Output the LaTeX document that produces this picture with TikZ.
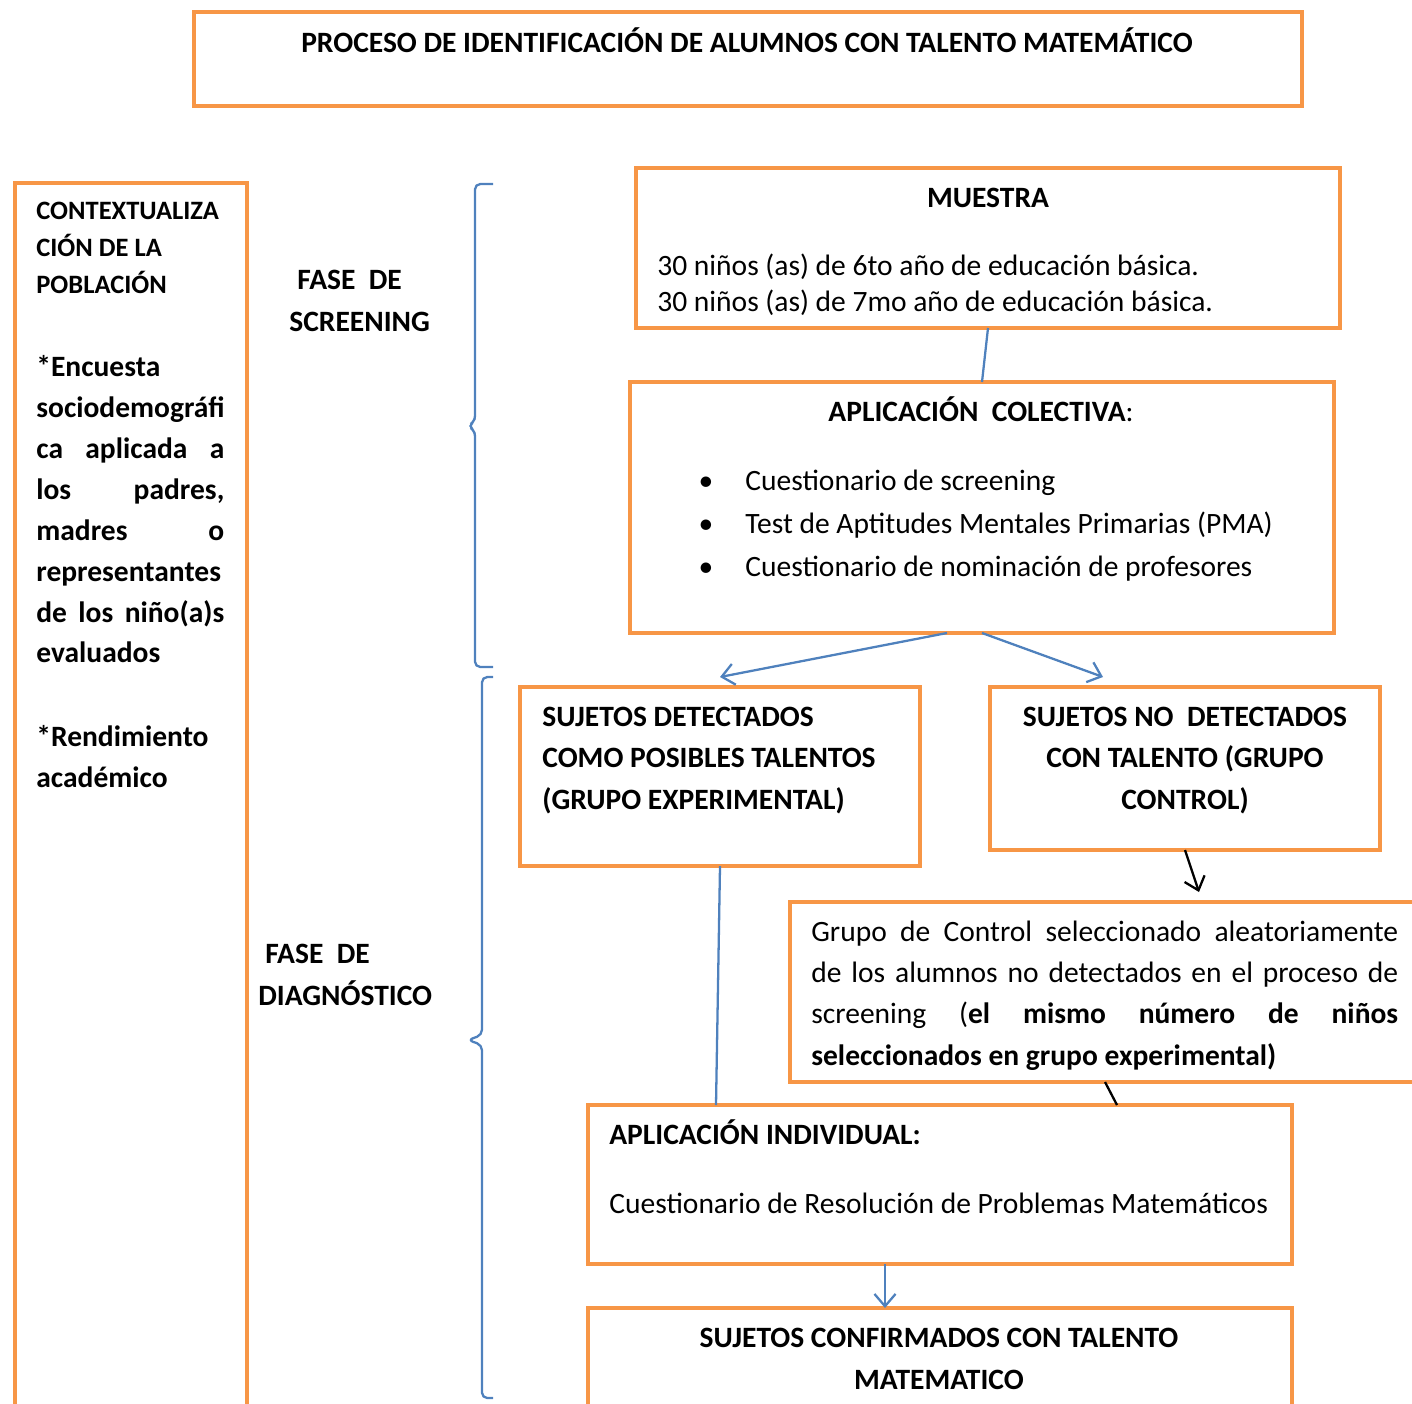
\documentclass[tikz,border=0pt]{standalone}
\usepackage{fontspec}
\setmainfont{Carlito}
\usetikzlibrary{arrows.meta,positioning,calc,fit}
\definecolor{myorange}{RGB}{247,150,70}
\definecolor{myblue}{RGB}{79,129,189}
\newcommand{\jline}[2]{\makebox[#1][s]{#2}}

\begin{document}
\begin{tikzpicture}[x=0.02cm,y=-0.02cm,
    box/.style={draw=myorange,line width=2.5pt,inner sep=0pt,outer sep=0pt},
    txt/.style={inner sep=0pt,font=\fontsize{16.8}{23.5}\selectfont},
    bold/.style={inner sep=0pt,font=\fontsize{16.8}{23.5}\selectfont\bfseries},
    link/.style={myblue,line width=1.3pt},
    barb/.style={-{Straight Barb[length=7pt,width=12pt]}}]
  \useasboundingbox (0,0) rectangle (1412,1403);
  \clip (0,0) rectangle (1412,1403);
  \node[box,fit={(194,12) (1302,106)}] (title) {};
  \node[box,fit={(15,183) (247,1420)}] (ctx) {};
  \node[box,fit={(636,168) (1340,328)}] (muestra) {};
  \node[box,fit={(630,382) (1334,633)}] (colect) {};
  \node[box,fit={(520,687) (920,866)}] (det) {};
  \node[box,fit={(990,687) (1380,850)}] (nodet) {};
  \node[box,fit={(790,902) (1430,1082)}] (grupo) {};
  \node[box,fit={(588,1105) (1292,1264)}] (indiv) {};
  \node[box,fit={(588,1308) (1292,1420)}] (conf) {};

  \node[bold,anchor=base] (titletxt) at (747,52)
    {PROCESO DE IDENTIFICACIÓN DE ALUMNOS CON TALENTO MATEMÁTICO};
  \node[bold,anchor=base west,align=left,font=\fontsize{15.1}{21}\selectfont\bfseries]
    (ctxhead) at (36,293) {CONTEXTUALIZA\\CIÓN DE LA\\POBLACIÓN};
  \node[bold,anchor=base west,align=left,font=\fontsize{16.8}{23.3}\selectfont\bfseries]
    (ctxbody) at (36,787) {*Encuesta\\sociodemográfi\\\jline{3.76cm}{ca aplicada a}\\
    \jline{3.76cm}{los padres,}\\\jline{3.76cm}{madres o}\\representantes\\
    \jline{3.76cm}{de los niño(a)s}\\evaluados\\[24pt]*Rendimiento\\académico};
  \node[bold,anchor=base west,align=left] (fscr) at (289,331)
    {\hspace*{0.16cm}FASE\ \ DE\\SCREENING};
  \node[bold,anchor=base west,align=left] (fdiag) at (258,1005)
    {\hspace*{0.14cm}FASE\ \ DE\\DIAGNÓSTICO};

  \node[bold,anchor=base] (mtitle) at (988,207) {MUESTRA};
  \node[txt,anchor=base west,align=left,font=\fontsize{16.8}{20.4}\selectfont]
    (mtext) at (657,311) {30 niños (as) de 6to año de educación básica.\\
    30 niños (as) de 7mo año de educación básica.};

  \node[bold,anchor=base] (ctitle) at (981,421) {APLICACIÓN\ \ COLECTIVA\textmd{:}};
  \foreach \t [count=\i] in {Cuestionario de screening,
      Test de Aptitudes Mentales Primarias (PMA),
      Cuestionario de nominación de profesores}{
    \node[txt,anchor=base] (dot\i) at (706,447+43*\i) {\textbullet};
    \node[txt,anchor=base west] (item\i) at (745,447+43*\i) {\t};}

  \node[bold,anchor=base west,align=left] (dettxt) at (542,809)
    {SUJETOS DETECTADOS\\COMO POSIBLES TALENTOS\\(GRUPO EXPERIMENTAL)};
  \node[bold,anchor=base,align=center] (nodettxt) at (1185,809)
    {SUJETOS NO\ \ DETECTADOS\\CON TALENTO (GRUPO\\CONTROL)};

  \node[txt,anchor=base west,align=left,font=\fontsize{16.8}{23.4}\selectfont]
    (grtxt) at (811,1065)
    {\jline{11.74cm}{Grupo de Control seleccionado aleatoriamente}\\
    \jline{11.74cm}{de los alumnos no detectados en el proceso de}\\
    \jline{11.74cm}{screening (\textbf{el mismo número de niños}}\\
    \textbf{seleccionados en grupo experimental)}};

  \node[bold,anchor=base west] (ititle) at (609,1144) {APLICACIÓN INDIVIDUAL:};
  \node[txt,anchor=base west] (itext) at (609,1213)
    {Cuestionario de Resolución de Problemas Matemáticos};
  \node[bold,anchor=base,align=center] (conftxt) at (939,1389)
    {SUJETOS CONFIRMADOS CON TALENTO\\MATEMATICO};

  \draw[link] (muestra.south) -- (colect.north);
  \draw[link,barb] ($(colect.south)+(-35,0)$) -- ($(det.north)+(0,-10)$);
  \draw[link,barb] (colect.south) -- ($(nodet.north west)+(113,-10)$);
  \draw[link] (det.south) -- ($(indiv.north west)+(128,0)$);
  \draw[line width=1.3pt,barb] (nodet.south) -- ($(grupo.north west)+(409,-10)$);
  \draw[line width=1.3pt] ($(grupo.south west)+(315,0)$) -- ($(indiv.north west)+(529,0)$);
  \draw[link,barb] ($(indiv.south west)+(297,0)$) -- ($(conf.north west)+(297,0)$);

  \draw[link,rounded corners=3pt] (493,184) -| (475,421) -- (468,426) -- (475,431) |- (493,667);
  \draw[link,rounded corners=3pt] (493,677) -| (482,1035) -- (468,1040) -- (482,1045) |- (493,1398);
\end{tikzpicture}
\end{document}
